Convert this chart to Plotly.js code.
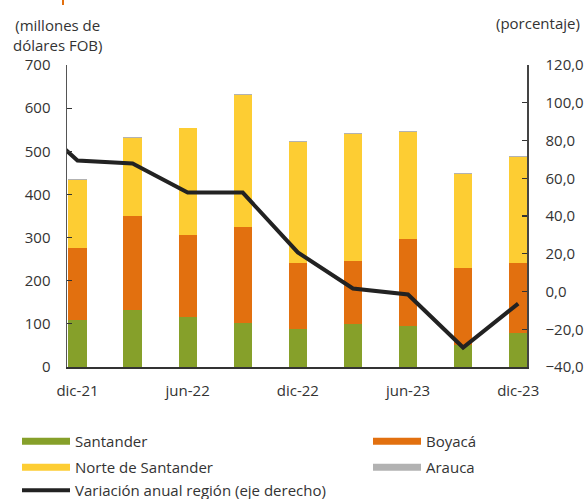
<!DOCTYPE html>
<html><head><meta charset="utf-8">
<script src="https://cdn.plot.ly/plotly-3.0.1.min.js"></script>
<style>html,body{margin:0;padding:0;background:#fff}#chart{width:585px;height:499px}</style>
</head><body><div id="chart"></div>
<script>
// Data (sep-21 only feeds the clipped start of the line)
const periods = ['sep-21','dic-21','mar-22','jun-22','sep-22','dic-22','mar-23','jun-23','sep-23','dic-23'];
const tickLabels = ['dic-21','jun-22','dic-22','jun-23','dic-23'];
const santander = [null,108,131,117,102,88,99,94,50,78];
const boyaca    = [null,168,218,190,222,152,146,202,179,163];
const norte     = [null,157,181,246,307,281,296,248,219,246];
const arauca    = [null,2.5,2,2,2,2,2.5,2,2,2];
const variacion = [96,69.4,67.8,52.4,52.4,20.7,1.6,-1.6,-29.7,-6.4];

const C = {santander:'#86A02A', boyaca:'#E2700F', norte:'#FDCD33', arauca:'#B2B2B2', line:'#222222'};

// pixel -> paper helpers for layout placement
const L = 67, R = 527, T = 65, B = 367;
const px = v => (v - L) / (R - L);
const py = v => (B - v) / (B - T);

const bar = (name, y, color) => ({type:'bar', name, x:periods, y, marker:{color, line:{width:0}}, showlegend:false, hoverinfo:'skip'});
const proxy = (name, color, legend) => ({type:'scatter', mode:'lines', name, x:[null], y:[null], line:{color, width:7}, legend, hoverinfo:'skip'});

const data = [
  bar('Santander', santander, C.santander),
  bar('Boyacá', boyaca, C.boyaca),
  bar('Norte de Santander', norte, C.norte),
  bar('Arauca', arauca, C.arauca),
  {type:'scatter', mode:'lines', name:'Variación anual región (eje derecho)', x:periods, y:variacion, yaxis:'y2',
   line:{color:C.line, width:4}, legend:'legend5', hoverinfo:'skip'},
  proxy('Santander', C.santander, 'legend'),
  proxy('Boyacá', C.boyaca, 'legend2'),
  proxy('Norte de Santander', C.norte, 'legend3'),
  proxy('Arauca', C.arauca, 'legend4')
];

const idx = tickLabels.map(t => periods.indexOf(t));
const legFont = {family:'Open Sans', size:15, color:'#333'};
const leg = (x, y) => ({x:px(x), y:py(y), xanchor:'left', yanchor:'top', bgcolor:'rgba(0,0,0,0)', borderwidth:0, font:legFont, itemwidth:48, traceorder:'normal'});

const layout = {
  width:585, height:499,
  margin:{l:L, r:585-R, t:T, b:499-B, pad:0, autoexpand:false},
  paper_bgcolor:'#fff', plot_bgcolor:'#fff',
  font:{family:'Open Sans', size:15, color:'#333'},
  separators:',.',
  barmode:'stack', bargap:0.67,
  xaxis:{type:'category', categoryarray:periods, categoryorder:'array', range:[0.81, 9.16],
    tickvals:tickLabels, ticktext:tickLabels, ticks:'', showline:true, linecolor:'#333', linewidth:1.5,
    showgrid:false, zeroline:false, ticklabelstandoff:9, fixedrange:true},
  xaxis2:{type:'linear', overlaying:'x', anchor:'y', range:[0.81, 9.16], tickvals:idx.map(i => i - 0.18),
    ticks:'inside', ticklen:7, tickcolor:'#333', tickwidth:1.3, showticklabels:false, showline:false,
    showgrid:false, zeroline:false},
  yaxis:{range:[0,700], dtick:100, ticks:'inside', ticklen:5, tickcolor:'#333', tickwidth:1.2,
    showline:true, linecolor:'#555', linewidth:1.5, showgrid:false, zeroline:false, ticklabelstandoff:12},
  yaxis2:{overlaying:'y', side:'right', range:[-40,120], dtick:20, tickformat:'.1f', ticks:'inside', ticklen:5,
    tickcolor:'#333', tickwidth:1.2, showline:true, linecolor:'#444', linewidth:1.5, showgrid:false, zeroline:false,
    ticklabelstandoff:14},
  showlegend:true,
  legend: leg(17, 425),
  legend2: leg(368, 425),
  legend3: leg(17, 451),
  legend4: leg(368, 451),
  legend5: leg(17, 474),
  annotations:[
    {xref:'paper', yref:'paper', x:px(57), y:py(35), xanchor:'center', yanchor:'middle', align:'center',
     text:'(millones de<br>dólares FOB)', showarrow:false, font:{family:'Open Sans', size:15, color:'#333'}},
    {xref:'paper', yref:'paper', x:px(538), y:py(23), xanchor:'center', yanchor:'middle',
     text:'(porcentaje)', showarrow:false, font:{family:'Open Sans', size:15, color:'#333'}}
  ],
  shapes:[
    {type:'rect', xref:'paper', yref:'paper', x0:px(62), x1:px(64), y0:py(5), y1:py(0), fillcolor:C.boyaca, line:{width:0}}
  ]
};

Plotly.newPlot('chart', data, layout, {displayModeBar:false, staticPlot:true});
</script>
</body></html>
